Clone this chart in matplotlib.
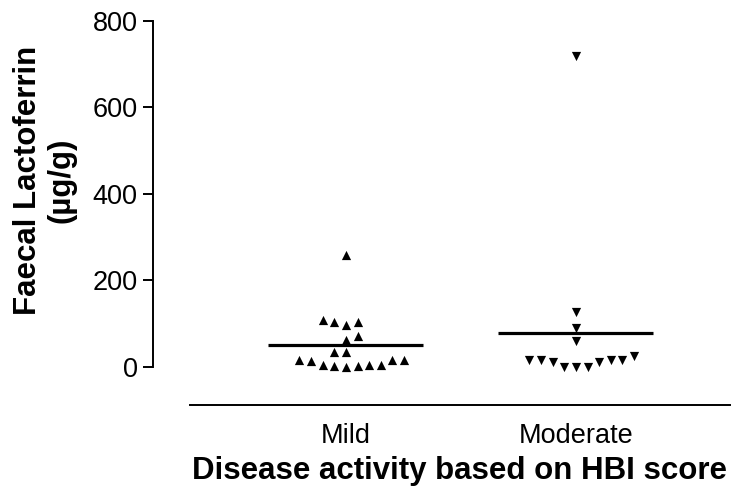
import matplotlib
matplotlib.use("Agg")
import matplotlib.pyplot as plt
import numpy as np

plt.rcParams['font.family'] = ['Liberation Sans', 'DejaVu Sans']

# ---- data ----
categories = ["Mild", "Moderate"]
mild_values = [259, 109, 105, 96, 105, 72, 62, 34, 34,
               16, 14, 5, 2, 1, 2, 5, 5, 15, 16]
moderate_values = [719, 126, 90, 61,
                   16, 15, 12, 1, 0, 1, 12, 15, 16, 25]
y_ticks = [0, 200, 400, 600, 800]

# horizontal slot index of each point within its column (scatter layout)
mild_slots = [0, -2, -1, 0, 1, 1, 0, -1, 0,
              -4, -3, -2, -1, 0, 1, 2, 3, 4, 5]
moderate_slots = [0, 0, 0, 0,
                  -4, -3, -2, -1, 0, 1, 2, 3, 4, 5]

W, H = 734, 491
fig = plt.figure(figsize=(W / 100, H / 100), dpi=100)
ax = fig.add_axes([153 / W, 1 - 405 / H, (730 - 153) / W, (405 - 21) / H])

slot_w = 0.0505
series = [(mild_values, mild_slots, '^'), (moderate_values, moderate_slots, 'v')]
for i, (vals, slots, mk) in enumerate(series):
    xc = i + 1
    xs = xc + np.array(slots) * slot_w
    ax.scatter(xs, vals, marker=mk, s=44, color='black', linewidths=0, zorder=3)
    m = np.mean(vals)
    ax.plot([xc - 0.337, xc + 0.337], [m, m], color='black', lw=2.3,
            solid_capstyle='butt', zorder=2)

ax.set_xlim(0.161, 2.67)
ax.set_ylim(-87.9, 800)

for s in ['top', 'right']:
    ax.spines[s].set_visible(False)
ax.spines['left'].set_bounds(0, 800)
ax.spines['bottom'].set_bounds(0.322, 2.67)
for s in ['left', 'bottom']:
    ax.spines[s].set_linewidth(1.4)

ax.set_yticks(y_ticks)
ax.set_yticklabels([str(t) for t in y_ticks], fontsize=19.5)
ax.tick_params(axis='y', direction='out', length=7, width=1.4, pad=4)
ax.set_xticks([1, 2])
ax.set_xticklabels(categories, fontsize=19.5)
ax.tick_params(axis='x', length=0, pad=13)

ax.set_xlabel("Disease activity based on HBI score", fontsize=22.5,
              fontweight='bold')
ax.xaxis.set_label_coords((460 - 153) / (730 - 153), -0.132)
fig.text(45 / W, 1 - 180 / H, "Faecal Lactoferrin\n(µg/g)", rotation=90,
         ha='center', va='center', multialignment='center',
         fontsize=22.5, fontweight='bold', linespacing=1.15)

fig.savefig("out.png", dpi=100)
